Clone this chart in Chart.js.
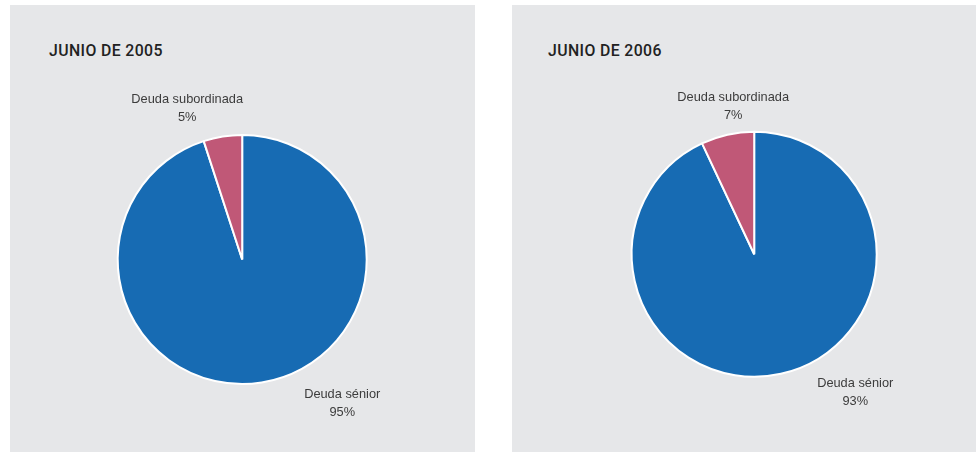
<!DOCTYPE html>
<html>
<head>
<meta charset="utf-8">
<script src="https://cdn.jsdelivr.net/npm/chart.js@4.4.0/dist/chart.umd.min.js"></script>
<style>
  body { margin: 0; background: #fff; width: 978px; height: 452px; position: relative; overflow: hidden; }
  .panel { position: absolute; top: 5px; height: 447px; background: #e6e7e9; }
  .panel canvas { position: absolute; left: 0; top: 0; }
  .title { position: absolute; top: 36px; font-family: Roboto, "Liberation Sans", Arial, sans-serif;
           font-weight: 500; font-size: 15.8px; color: #222; letter-spacing: 0.4px; }
</style>
</head>
<body>
<div class="panel" id="p1" style="left:10px;width:465px;">
  <div class="title" id="t1" style="left:39px;"></div>
  <canvas id="c1" width="465" height="447"></canvas>
</div>
<div class="panel" id="p2" style="left:512px;width:464px;">
  <div class="title" id="t2" style="left:36px;"></div>
  <canvas id="c2" width="464" height="447"></canvas>
</div>
<script>
// datos
const titles = ['JUNIO DE 2005', 'JUNIO DE 2006'];
const categories = ['Deuda sénior', 'Deuda subordinada'];
const values2005 = [95, 5];
const values2006 = [93, 7];
const colors = ['#176bb3', '#c05877'];

// posición de las etiquetas respecto al centro de la tarta
const labelOffsets = [
    [{ dx: 100, dy: 135 }, { dx: -55, dy: -160 }],
    [{ dx: 101, dy: 129 }, { dx: -21, dy: -157 }]
];

const sliceLabels = {
    id: 'sliceLabels',
    afterDraw(chart, args, opts) {
        const ctx = chart.ctx;
        const arc = chart.getDatasetMeta(0).data[0];
        const { x, y } = arc.getProps(['x', 'y'], true);
        const data = chart.data.datasets[0].data;
        ctx.save();
        ctx.font = '12.8px "Liberation Sans", Arial, sans-serif';
        ctx.fillStyle = '#3c3c3c';
        ctx.textAlign = 'center';
        ctx.textBaseline = 'middle';
        chart.data.labels.forEach((label, i) => {
            const off = opts.offsets[i];
            ctx.fillText(label, x + off.dx, y + off.dy);
            ctx.fillText(data[i] + '%', x + off.dx, y + off.dy + 18);
        });
        ctx.restore();
    }
};

function makePie(id, values, offsets, padding) {
    return new Chart(document.getElementById(id), {
        type: 'pie',
        data: {
            labels: categories,
            datasets: [{
                data: values,
                backgroundColor: colors,
                borderColor: '#ffffff',
                borderWidth: 2
            }]
        },
        options: {
            responsive: false,
            animation: false,
            layout: { padding: padding },
            plugins: {
                legend: { display: false },
                tooltip: { enabled: false },
                sliceLabels: { offsets: offsets }
            }
        },
        plugins: [sliceLabels]
    });
}

document.getElementById('t1').textContent = titles[0];
document.getElementById('t2').textContent = titles[1];

makePie('c1', values2005, labelOffsets[0], { left: 106.7, top: 129, right: 107.3, bottom: 67 });
makePie('c2', values2006, labelOffsets[1], { left: 118.7, top: 125.7, right: 98.3, bottom: 74.3 });
</script>
</body>
</html>
